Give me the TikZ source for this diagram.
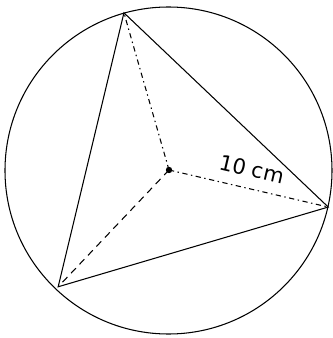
\documentclass[tikz,border=0pt]{standalone}
\usepackage{fontspec}
\setsansfont{DejaVu Sans}
\usetikzlibrary{calc}
\tikzset{
	rim/.style={line width=0.6pt},
	side/.style={line width=0.6pt},
	radiusdash/.style={line width=0.6pt, dash pattern=on 3pt off 2pt on 0.8pt off 2pt},
	radiusplain/.style={line width=0.6pt, dash pattern=on 4pt off 3pt},
	sizetext/.style={font=\fontsize{12}{14}\selectfont\sffamily}
}

\begin{document}
\begin{tikzpicture}[x=0.02cm, y=0.02cm]

	\useasboundingbox (-169,-168) rectangle (164,170);

	\coordinate (O) at (0,0);
	\coordinate (A) at (106:163.5);
	\coordinate (B) at (-13.1:163.5);
	\coordinate (C) at (226.5:161);

	\draw[rim] (-0.5,-0.5) circle (163.5);

	\draw[side] (A) -- (B) -- (C) -- cycle;

	\draw[radiusdash] (O) -- (A);
	\draw[radiusdash] (O) -- (B);
	\draw[radiusplain] (O) -- (C);

	\fill (O) circle (3.2);

	\node[sizetext, rotate=-13.1] (len) at (83,1) {10 cm};

\end{tikzpicture}
\end{document}
